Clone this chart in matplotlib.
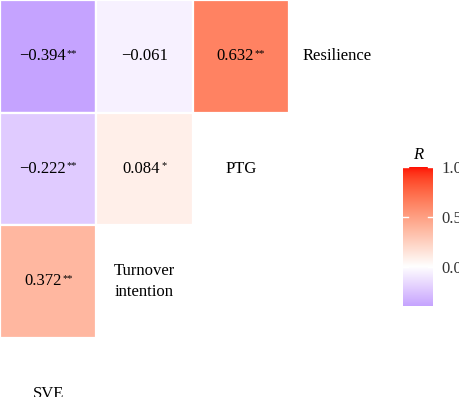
import numpy as np
import matplotlib
matplotlib.use("Agg")
import matplotlib.pyplot as plt
from matplotlib.patches import Rectangle
from matplotlib.transforms import ScaledTranslation

# ---------------- data ----------------
variables = ["SVE", "Turnover intention", "PTG", "Resilience"]
variable_labels = ["SVE", "Turnover\nintention", "PTG", "Resilience"]
pair_rows = ["Resilience", "Resilience", "Resilience", "PTG", "PTG", "Turnover intention"]
pair_cols = ["SVE", "Turnover intention", "PTG", "SVE", "Turnover intention", "SVE"]
r_values = [-0.394, -0.061, 0.632, -0.222, 0.084, 0.372]
stars = ["**", "", "**", "**", "*", "**"]
cbar_ticks = [0.0, 0.5, 1.0]
cbar_ticklabels = ["0.0", "0.5", "1.0"]

FONT = "Liberation Serif"

# ---------------- Lab colour interpolation (blue - white - red) ----------------
M = np.array([[0.4124564, 0.3575761, 0.1804375],
              [0.2126729, 0.7151522, 0.0721750],
              [0.0193339, 0.1191920, 0.9503041]])
Minv = np.linalg.inv(M)
WN = np.array([0.95047, 1.0, 1.08883])
d = 6 / 29


def rgb2lab(rgb):
    c = np.asarray(rgb, float)
    lin = np.where(c <= 0.04045, c / 12.92, ((c + 0.055) / 1.055) ** 2.4)
    xyz = M @ lin / WN
    f = np.where(xyz > d ** 3, np.cbrt(xyz), xyz / (3 * d * d) + 4 / 29)
    return np.array([116 * f[1] - 16, 500 * (f[0] - f[1]), 200 * (f[1] - f[2])])


def lab2rgb(lab):
    L, a, b = lab
    fy = (L + 16) / 116
    fx = fy + a / 500
    fz = fy - b / 200
    f = np.array([fx, fy, fz])
    xyz = np.where(f > d, f ** 3, 3 * d * d * (f - 4 / 29)) * WN
    lin = Minv @ xyz
    lin = np.clip(lin, 0, 1)
    c = np.where(lin <= 0.0031308, 12.92 * lin, 1.055 * lin ** (1 / 2.4) - 0.055)
    return np.clip(c, 0, 1)


LAB_LOW = rgb2lab([0, 0, 1])
LAB_MID = rgb2lab([1, 1, 1])
LAB_HIGH = rgb2lab([1, 0, 0])


def rcolor(v):
    if v >= 0:
        return lab2rgb(LAB_MID + (LAB_HIGH - LAB_MID) * v)
    return lab2rgb(LAB_MID + (LAB_LOW - LAB_MID) * (-v))


# ---------------- figure ----------------
W, H = 460, 397
fig = plt.figure(figsize=(W / 100, H / 100), dpi=100)
cell_w, cell_h = 96.3, 112.5
ax = fig.add_axes([0, 1 - 4 * cell_h / H, 4 * cell_w / W, 4 * cell_h / H])
ax.set_xlim(0, 4)
ax.set_ylim(4, 0)
ax.axis("off")

n = len(variables)
FS = 12
pairs = []
for rv, cv, r, st in zip(pair_rows, pair_cols, r_values, stars):
    col = variables.index(cv)
    row = n - 1 - variables.index(rv)
    ax.add_patch(Rectangle((col, row), 1, 1, facecolor=rcolor(r),
                           edgecolor="white", linewidth=1.6))
    txt = f"{r:.3f}".replace("-", "\u2212")
    t = ax.text(col + 0.5, row + 0.5, txt, ha="center", va="center",
                fontsize=FS, family=FONT, color="black")
    if st:
        s = ax.annotate(st, xy=(1, 1), xycoords=t, xytext=(0.6, -0.5),
                        textcoords="offset points", ha="left", va="top",
                        fontsize=7.5, family=FONT, color="black")
        pairs.append((t, s))

for i, lab in enumerate(variable_labels):
    ax.text(i + 0.5, n - 1 - i + 0.5, lab, ha="center", va="center",
            fontsize=FS, family=FONT, color="black", linespacing=1.4,
            multialignment="center")

# ---------------- colour bar ----------------
vmin = min(r_values)
vmax = 1.0
cb_top, cb_bot = 167, 167 + (vmax - vmin) * 100
cax = fig.add_axes([403 / W, 1 - cb_bot / H, 30 / W, (cb_bot - cb_top) / H])
vals = np.linspace(vmin, vmax, 300)
grad = np.array([rcolor(v) for v in vals])[:, None, :]
cax.imshow(grad, aspect="auto", origin="lower", extent=[0, 1, vmin, vmax])
cax.set_xlim(0, 1)
cax.set_ylim(vmin, vmax)
for sp in cax.spines.values():
    sp.set_visible(False)
cax.set_xticks([])
cax.yaxis.tick_right()
cax.set_yticks(cbar_ticks)
cax.set_yticklabels(cbar_ticklabels, fontsize=FS, family=FONT, color="#333333")
cax.tick_params(axis="y", length=0, pad=6)
for tv in cbar_ticks:
    cax.plot([0, 0.15], [tv, tv], color="white", lw=1.0)
    cax.plot([0.85, 1], [tv, tv], color="white", lw=1.0)
cax.set_title("R", fontsize=FS, family=FONT, style="italic", pad=6)

# centre number+stars together
fig.canvas.draw()
for t, s in pairs:
    w = s.get_window_extent().width + 0.6
    t.set_transform(ax.transData + ScaledTranslation(-w / 2 / fig.dpi, 0, fig.dpi_scale_trans))

fig.savefig("out.png", dpi=100)
